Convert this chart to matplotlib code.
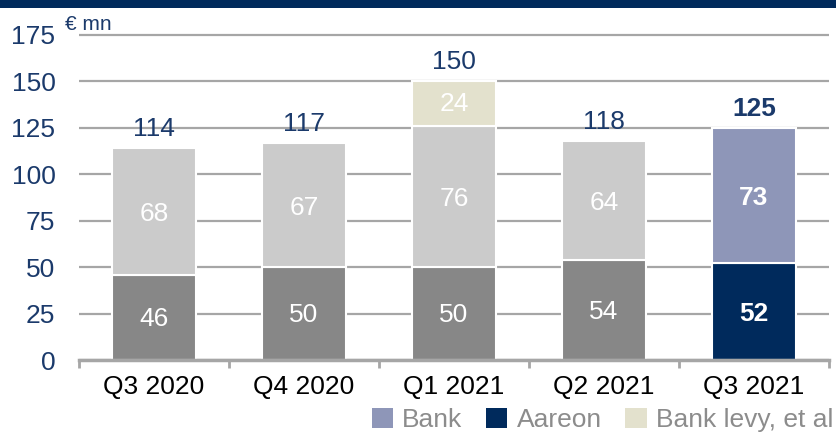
import matplotlib
matplotlib.use("Agg")
import matplotlib.pyplot as plt
from matplotlib.patches import Patch, Rectangle
from matplotlib.ticker import FixedLocator

categories = ["Q3 2020", "Q4 2020", "Q1 2021", "Q2 2021", "Q3 2021"]
bottom_vals = [46, 50, 50, 54, 52]   # Aareon
middle_vals = [68, 67, 76, 64, 73]   # Bank
levy_vals = [0, 0, 24, 0, 0]         # Bank levy, et al
totals = [114, 117, 150, 118, 125]
y_ticks = [0, 25, 50, 75, 100, 125, 150, 175]
legend_labels = ["Bank", "Aareon", "Bank levy, et al"]

NAVY = "#002A5C"
BANK = "#8E96B8"
DGRAY = "#878787"
LGRAY = "#CBCBCB"
BEIGE = "#E3E1CD"
TXT_NAVY = "#1B3A6B"
GRID = "#A6A6A6"

plt.rcParams['font.family'] = ['Liberation Sans', 'DejaVu Sans']

fig = plt.figure(figsize=(8.37, 4.33), dpi=100)
fig.patches.append(Rectangle((0, 1 - 8 / 433), 1, 8 / 433, transform=fig.transFigure,
                             facecolor=NAVY, edgecolor='none', zorder=0))
ax = fig.add_axes([79 / 837, 1 - 360 / 433, 750 / 837, 327 / 433])

x = list(range(len(categories)))
bot_colors = [DGRAY] * 4 + [NAVY]
mid_colors = [LGRAY] * 4 + [BANK]
w = 0.56
ax.bar(x, bottom_vals, width=w, color=bot_colors, edgecolor='white', linewidth=1.5, zorder=3)
ax.bar(x, middle_vals, width=w, bottom=bottom_vals, color=mid_colors, edgecolor='white', linewidth=1.5, zorder=3)
levy_x = [i for i in x if levy_vals[i] > 0]
ax.bar(levy_x, [levy_vals[i] for i in levy_x], width=w,
       bottom=[bottom_vals[i] + middle_vals[i] for i in levy_x],
       color=BEIGE, edgecolor='white', linewidth=1.5, zorder=3)

fs = 19
for i in x:
    bold = (i == len(x) - 1)
    fw = 'bold' if bold else 'normal'
    ax.text(i, bottom_vals[i] / 2 - 1, str(bottom_vals[i]), ha='center', va='center',
            color='white', fontsize=fs, fontweight=fw, zorder=4)
    ax.text(i, bottom_vals[i] + middle_vals[i] / 2 - 1.5, str(middle_vals[i]), ha='center', va='center',
            color='white', fontsize=fs, fontweight=fw, zorder=4)
    if levy_vals[i] > 0:
        ax.text(i, bottom_vals[i] + middle_vals[i] + levy_vals[i] / 2, str(levy_vals[i]),
                ha='center', va='center', color='white', fontsize=fs, zorder=4)
    ax.annotate(str(totals[i]), (i, totals[i]), xytext=(0, 5), textcoords='offset points',
                ha='center', va='bottom', color=TXT_NAVY, fontsize=fs, fontweight=fw, zorder=4)

ax.set_xlim(-0.5, len(categories) - 0.5)
ax.set_ylim(0, 176)
ax.set_yticks(y_ticks)
ax.set_yticklabels([str(t) for t in y_ticks], color=TXT_NAVY, fontsize=fs)
ax.tick_params(axis='y', length=0, pad=17)
ax.set_xticks(x)
ax.set_xticklabels(categories, fontsize=fs, color='black')
ax.tick_params(axis='x', which='major', length=0, pad=11)
ax.xaxis.set_minor_locator(FixedLocator([i - 0.5 for i in range(len(categories) + 1)]))
ax.tick_params(axis='x', which='minor', length=6, width=2, color=GRID, direction='out')
ax.yaxis.grid(True, color=GRID, linewidth=1.6, zorder=0)
ax.set_axisbelow(True)
for s in ['left', 'right', 'top']:
    ax.spines[s].set_visible(False)
ax.spines['bottom'].set_color(GRID)
ax.spines['bottom'].set_linewidth(2.5)
ax.spines['bottom'].set_zorder(5)

fig.text(65 / 837, 1 - 24 / 433, "€ mn", fontsize=15, color=TXT_NAVY, ha='left', va='center')

handles = [Patch(facecolor=BANK), Patch(facecolor=NAVY), Patch(facecolor=BEIGE)]
leg = fig.legend(handles, legend_labels, loc='lower right', bbox_to_anchor=(1.008, -0.022),
                 ncol=3, frameon=False, fontsize=fs, handlelength=0.8, handleheight=0.8,
                 handletextpad=0.35, columnspacing=0.9, borderaxespad=0)
for t in leg.get_texts():
    t.set_color("#8C8C8C")

fig.savefig("out.png", dpi=100)
